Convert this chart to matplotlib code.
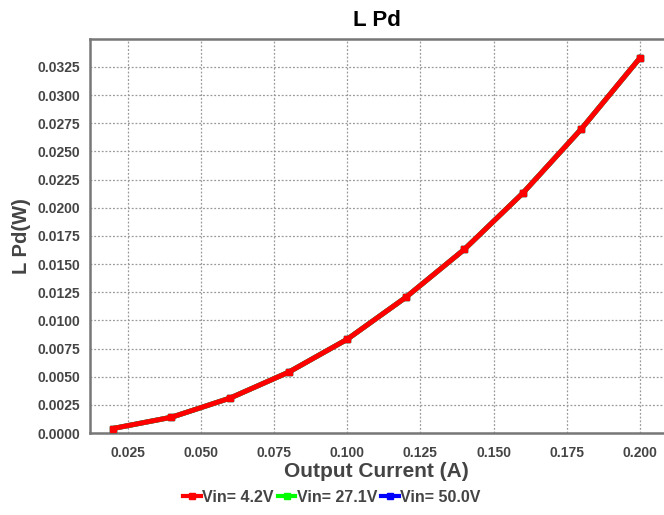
import matplotlib
matplotlib.use('Agg')
import matplotlib.pyplot as plt
from matplotlib.ticker import MultipleLocator, FormatStrFormatter

# Inductor power dissipation vs output current
current = [0.02, 0.04, 0.06, 0.08, 0.10, 0.12, 0.14, 0.16, 0.18, 0.20]
pd_4v2 = [0.00040, 0.00140, 0.00310, 0.00540, 0.00832, 0.01204, 0.01630, 0.02130, 0.02700, 0.03330]
pd_27v1 = [0.00040, 0.00140, 0.00310, 0.00540, 0.00832, 0.01204, 0.01630, 0.02130, 0.02700, 0.03330]
pd_50v0 = [0.00040, 0.00140, 0.00310, 0.00540, 0.00832, 0.01204, 0.01630, 0.02130, 0.02700, 0.03330]
series_labels = ['Vin= 4.2V', 'Vin= 27.1V', 'Vin= 50.0V']
series_colors = ['#ff0000', '#00ff00', '#0000ff']

plt.rcParams['font.family'] = ['Liberation Sans', 'DejaVu Sans']

fig = plt.figure(figsize=(6.64, 5.15), dpi=100)
ax = fig.add_axes([0.1348, 0.1592, 0.8652, 0.7651])

# red is drawn on top, the other two sit underneath
for vals, lab, col, z in zip([pd_4v2, pd_27v1, pd_50v0], series_labels, series_colors, [5, 4, 3]):
    ax.plot(current, vals, color=col, lw=3.6, marker='s', ms=5, label=lab, zorder=z)

ax.set_xlim(0.012, 0.2082)
ax.set_ylim(0, 0.03498)
ax.xaxis.set_major_locator(MultipleLocator(0.025))
ax.yaxis.set_major_locator(MultipleLocator(0.0025))
ax.xaxis.set_major_formatter(FormatStrFormatter('%.3f'))
ax.yaxis.set_major_formatter(FormatStrFormatter('%.4f'))
ax.grid(True, color='#999999', linestyle=(0, (1.5, 1.5)), linewidth=0.9)
ax.tick_params(length=0, labelsize=10, labelcolor='#444444')
ax.tick_params(axis='x', pad=9)
ax.tick_params(axis='y', pad=7)
for lbl in ax.get_xticklabels() + ax.get_yticklabels():
    lbl.set_fontweight('bold')

for side in ['top', 'left', 'bottom']:
    ax.spines[side].set_color('#777777')
    ax.spines[side].set_linewidth(1.8)
ax.spines['right'].set_visible(False)

ax.set_title('L Pd', fontsize=16, fontweight='bold', color='black', pad=9)
ax.set_xlabel('Output Current (A)', fontsize=15, fontweight='bold', color='#444444', labelpad=2)
ax.set_ylabel('L Pd(W)', fontsize=14.5, fontweight='bold', color='#444444', labelpad=4)

leg = fig.legend(loc='center', bbox_to_anchor=(0.5, 0.034), ncol=3, frameon=False,
                 handlelength=1.1, handletextpad=0.1, columnspacing=0.25,
                 prop={'weight': 'bold', 'size': 11.5})
for t in leg.get_texts():
    t.set_color('#444444')
for h in leg.get_lines():
    h.set_linewidth(3)
    h.set_markersize(4)

fig.savefig('out.png', dpi=100)
